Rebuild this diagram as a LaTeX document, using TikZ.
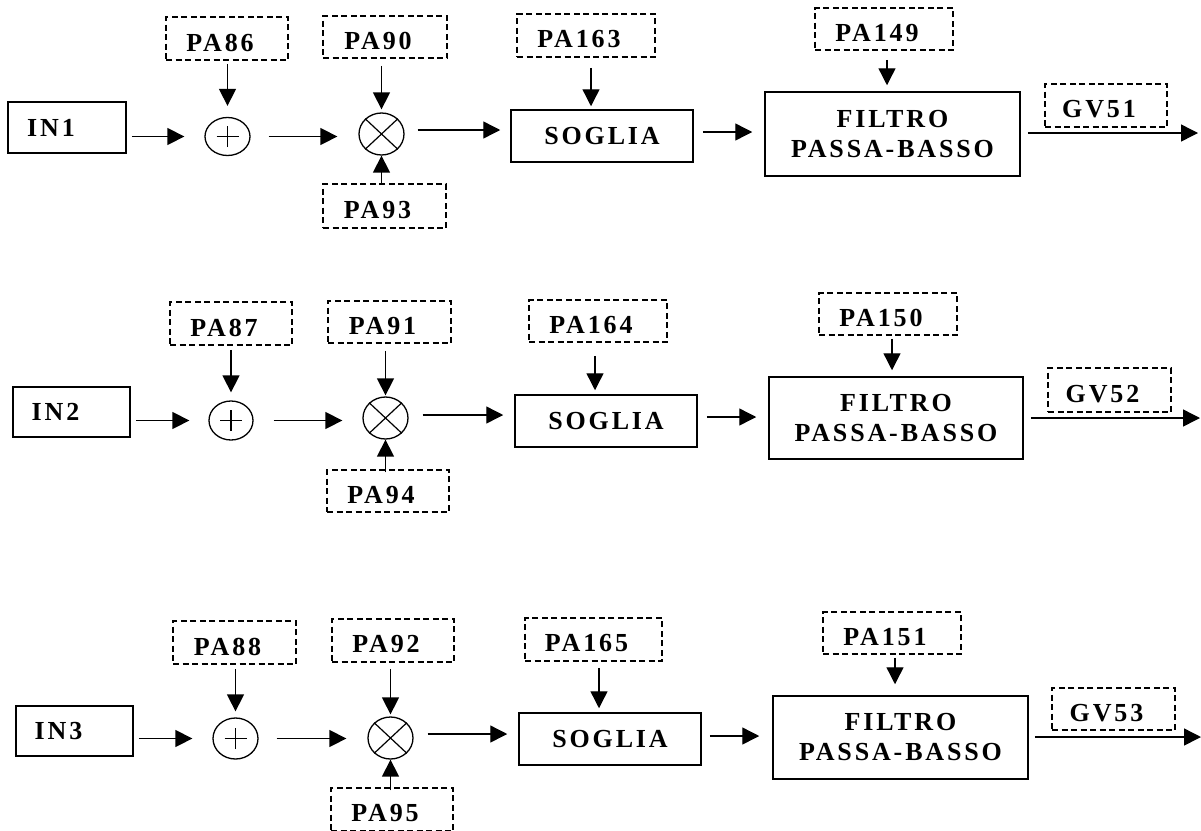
\documentclass[tikz,border=0pt]{standalone}
\usepackage{fontspec}
\usetikzlibrary{arrows.meta,shapes.geometric,calc}
\newfontfamily\labfont{Liberation Serif}[LetterSpace=11]
\newcommand\dl[1]{\raisebox{-4pt}[\height][\depth]{#1}\kern14pt}
\newcommand\il[1]{#1\kern32pt}
\begin{document}
\begin{tikzpicture}[x=1pt,y=-1pt,
  every node/.style={font=\labfont\bfseries\fontsize{26}{30}\selectfont, inner sep=0pt},
  solidbox/.style={draw, line width=1.5pt, rectangle},
  dashbox/.style={draw, line width=1.5pt, dash pattern=on 6pt off 3.5pt, rectangle},
  sumnode/.style={draw, line width=1.3pt, ellipse, minimum width=45pt, minimum height=38pt},
  mulnode/.style={draw, line width=1.3pt, ellipse, minimum width=45pt, minimum height=42pt},
  arr/.style={line width=1.4pt, -{Triangle[length=17pt,width=17pt]}},
  signline/.style={line width=1.2pt}
]
\useasboundingbox (0,0) rectangle (1201,830);

% ================= ROW 1 =================
\node[solidbox, minimum width=118pt, minimum height=51pt] (in1) at (67,127.5) {\il{IN1}};
\node[sumnode] (plus1) at (227.5,136.5) {};
\node[dashbox, minimum width=122pt, minimum height=43pt] (pa86) at (227,38.5) {\dl{PA86}};
\node[mulnode] (times1) at (381.5,134) {};
\node[dashbox, minimum width=124pt, minimum height=42pt] (pa90) at (385,37) {\dl{PA90}};
\node[dashbox, minimum width=123pt, minimum height=44pt] (pa93) at (384.5,206) {\dl{PA93}};
\node[solidbox, minimum width=182pt, minimum height=52pt] (sog1) at (602,136) {SOGLIA};
\node[dashbox, minimum width=138pt, minimum height=43pt] (pa163) at (586,35.5) {\dl{PA163}};
\node[solidbox, minimum width=255pt, minimum height=84pt, align=center] (fil1) at (892.5,134) {FILTRO\\PASSA-BASSO};
\node[dashbox, minimum width=138pt, minimum height=42pt] (pa149) at (884,29) {\dl{PA149}};
\node[dashbox, minimum width=122pt, minimum height=43pt] (gv51) at (1106,105.5) {\dl{GV51}};
\coordinate (o1) at (1198,133);

\draw[signline] ([xshift=-11pt]plus1.center) -- ([xshift=11pt]plus1.center);
\draw[signline] ([yshift=-10.5pt]plus1.center) -- ([yshift=10.5pt]plus1.center);
\draw[signline] (times1.north east) -- (times1.south west);
\draw[signline] (times1.north west) -- (times1.south east);

\draw[arr, shorten <=5pt, shorten >=20pt] (in1.east |- plus1.west) -- (plus1.west);
\draw[arr, shorten <=3pt, shorten >=11pt] (plus1.north |- pa86.south) -- (plus1.north);
\draw[arr, shorten <=18pt, shorten >=21pt] (plus1.east) -- (plus1.east -| times1.west);
\draw[arr, shorten <=7pt, shorten >=3pt] (times1.north |- pa90.south) -- (times1.north);
\draw[arr] (times1.south |- pa93.north) -- (times1.south);
\draw[arr, shorten <=13pt, shorten >=10pt] ([yshift=4pt]times1.east) -- ([yshift=4pt]times1.east -| sog1.west);
\draw[arr, shorten <=10pt, shorten >=3pt] ([xshift=5pt]pa163.south) -- ([xshift=5pt]pa163.south |- sog1.north);
\draw[arr, shorten <=9pt, shorten >=12pt] ([yshift=2pt]fil1.west -| sog1.east) -- ([yshift=2pt]fil1.west);
\draw[arr, shorten <=9pt, shorten >=6pt] ([xshift=3pt]pa149.south) -- ([xshift=3pt]pa149.south |- fil1.north);
\draw[arr, shorten <=7pt] (fil1.east |- o1) -- (o1);

% ================= ROW 2 =================
\node[solidbox, minimum width=117pt, minimum height=50pt] (in2) at (71.5,412) {\il{IN2}};
\node[sumnode, minimum height=39pt, minimum width=44pt] (plus2) at (231,420.5) {};
\node[dashbox, minimum width=122pt, minimum height=43pt] (pa87) at (231,323.5) {\dl{PA87}};
\node[mulnode] (times2) at (385.5,418) {};
\node[dashbox, minimum width=123pt, minimum height=42pt] (pa91) at (389.5,322) {\dl{PA91}};
\node[dashbox, minimum width=122pt, minimum height=42pt] (pa94) at (388,491) {\dl{PA94}};
\node[solidbox, minimum width=182pt, minimum height=52pt] (sog2) at (606,421) {SOGLIA};
\node[dashbox, minimum width=138pt, minimum height=42pt] (pa164) at (598,321) {\dl{PA164}};
\node[solidbox, minimum width=254pt, minimum height=82pt, align=center] (fil2) at (896,418) {FILTRO\\PASSA-BASSO};
\node[dashbox, minimum width=138pt, minimum height=42pt] (pa150) at (888,314) {\dl{PA150}};
\node[dashbox, minimum width=123pt, minimum height=44pt] (gv52) at (1109.5,390) {\dl{GV52}};
\coordinate (o2) at (1200,418);

\draw[signline] ([xshift=-11pt]plus2.center) -- ([xshift=11pt]plus2.center);
\draw[signline] ([yshift=-10.5pt]plus2.center) -- ([yshift=10.5pt]plus2.center);
\draw[signline] (times2.north east) -- (times2.south west);
\draw[signline] (times2.north west) -- (times2.south east);

\draw[arr, shorten <=5pt, shorten >=19pt] (in2.east |- plus2.west) -- (plus2.west);
\draw[arr, shorten <=4pt, shorten >=8pt] (plus2.north |- pa87.south) -- (plus2.north);
\draw[arr, shorten <=20pt, shorten >=20pt] (plus2.east) -- (plus2.east -| times2.west);
\draw[arr, shorten <=7pt, shorten >=1pt] (times2.north |- pa91.south) -- (times2.north);
\draw[arr, shorten <=-3pt] (times2.south |- pa94.north) -- (times2.south);
\draw[arr, shorten <=14pt, shorten >=11pt] ([yshift=3pt]times2.east) -- ([yshift=3pt]times2.east -| sog2.west);
\draw[arr, shorten <=13pt, shorten >=4pt] ([xshift=-3pt]pa164.south) -- ([xshift=-3pt]pa164.south |- sog2.north);
\draw[arr, shorten <=9pt, shorten >=12pt] ([yshift=1pt]fil2.west -| sog2.east) -- ([yshift=1pt]fil2.west);
\draw[arr, shorten <=3pt, shorten >=6pt] ([xshift=4pt]pa150.south) -- ([xshift=4pt]pa150.south |- fil2.north);
\draw[arr, shorten <=7pt] (fil2.east |- o2) -- (o2);

% ================= ROW 3 =================
\node[solidbox, minimum width=117pt, minimum height=50pt] (in3) at (74.5,731) {\il{IN3}};
\node[sumnode, minimum height=41pt] (plus3) at (235.5,738.5) {};
\node[dashbox, minimum width=123pt, minimum height=43pt] (pa88) at (234.5,642.5) {\dl{PA88}};
\node[mulnode] (times3) at (390.5,738) {};
\node[dashbox, minimum width=122pt, minimum height=43pt] (pa92) at (393,640.5) {\dl{PA92}};
\node[dashbox, minimum width=122pt, minimum height=43pt] (pa95) at (392,809.5) {\dl{PA95}};
\node[solidbox, minimum width=182pt, minimum height=52pt] (sog3) at (610,739) {SOGLIA};
\node[dashbox, minimum width=137pt, minimum height=43pt] (pa165) at (593.5,639.5) {\dl{PA165}};
\node[solidbox, minimum width=255pt, minimum height=83pt, align=center] (fil3) at (900.5,737.5) {FILTRO\\PASSA-BASSO};
\node[dashbox, minimum width=138pt, minimum height=42pt] (pa151) at (892,633) {\dl{PA151}};
\node[dashbox, minimum width=123pt, minimum height=42pt] (gv53) at (1113.5,709) {\dl{GV53}};
\coordinate (o3) at (1201,737);

\draw[signline] ([xshift=-11pt]plus3.center) -- ([xshift=11pt]plus3.center);
\draw[signline] ([yshift=-10.5pt]plus3.center) -- ([yshift=10.5pt]plus3.center);
\draw[signline] (times3.north east) -- (times3.south west);
\draw[signline] (times3.north west) -- (times3.south east);

\draw[arr, shorten <=5pt, shorten >=20pt] (in3.east |- plus3.west) -- (plus3.west);
\draw[arr, shorten <=4pt, shorten >=6pt] (plus3.north |- pa88.south) -- (plus3.north);
\draw[arr, shorten <=18pt, shorten >=21pt] (plus3.east) -- (plus3.east -| times3.west);
\draw[arr, shorten <=6pt, shorten >=2pt] (times3.north |- pa92.south) -- (times3.north);
\draw[arr, shorten <=-3pt] (times3.south |- pa95.north) -- (times3.south);
\draw[arr, shorten <=14pt, shorten >=11pt] ([yshift=4pt]times3.east) -- ([yshift=4pt]times3.east -| sog3.west);
\draw[arr, shorten <=6pt, shorten >=4pt] ([xshift=5.5pt]pa165.south) -- ([xshift=5.5pt]pa165.south |- sog3.north);
\draw[arr, shorten <=8pt, shorten >=13pt] ([yshift=1.5pt]fil3.west -| sog3.east) -- ([yshift=1.5pt]fil3.west);
\draw[arr, shorten <=3pt, shorten >=11pt] ([xshift=3pt]pa151.south) -- ([xshift=3pt]pa151.south |- fil3.north);
\draw[arr, shorten <=6pt] (fil3.east |- o3) -- (o3);
\end{tikzpicture}
\end{document}
